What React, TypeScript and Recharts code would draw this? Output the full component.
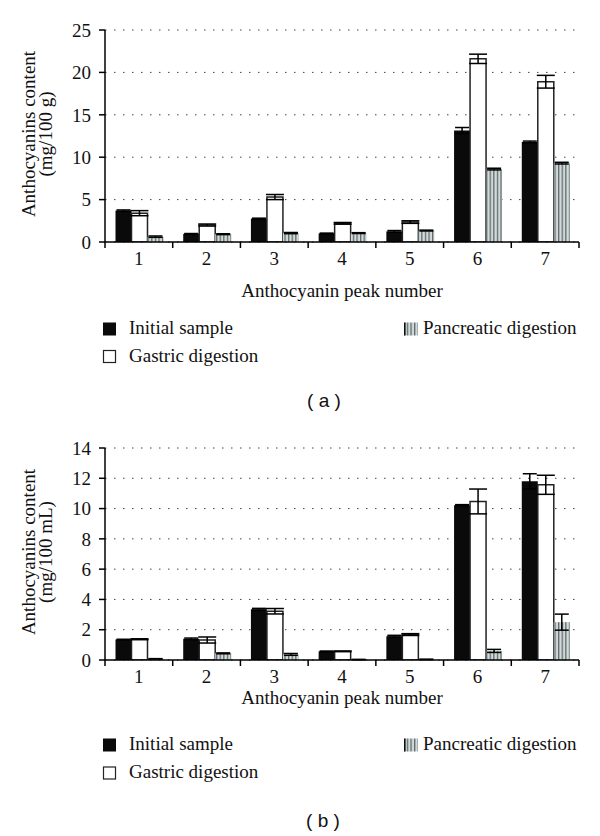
import React from 'react';
import { BarChart, Bar, XAxis, YAxis, CartesianGrid, ErrorBar } from 'recharts';

const categories = ['1', '2', '3', '4', '5', '6', '7'];
const seriesNames = ['Initial sample', 'Gastric digestion', 'Pancreatic digestion'];

// Panel (a): mg/100 g
const initialA = [3.7, 0.95, 2.75, 1.0, 1.25, 13.15, 11.8];
const initialErrA = [0.08, 0.05, 0.06, 0.05, 0.1, 0.35, 0.1];
const gastricA = [3.4, 2.0, 5.3, 2.2, 2.35, 21.6, 18.9];
const gastricErrA = [0.3, 0.12, 0.3, 0.1, 0.15, 0.55, 0.75];
const pancreaticA = [0.63, 0.92, 1.05, 1.05, 1.35, 8.6, 9.3];
const pancreaticErrA = [0.08, 0.05, 0.07, 0.05, 0.05, 0.1, 0.1];
const yTicksA = [0, 5, 10, 15, 20, 25];

// Panel (b): mg/100 mL
const initialB = [1.35, 1.4, 3.35, 0.57, 1.57, 10.22, 11.8];
const initialErrB = [0.02, 0.05, 0.06, 0.02, 0.06, 0.04, 0.5];
const gastricB = [1.37, 1.32, 3.22, 0.57, 1.68, 10.47, 11.57];
const gastricErrB = [0.03, 0.2, 0.18, 0.02, 0.06, 0.82, 0.63];
const pancreaticB = [0.08, 0.44, 0.37, 0.03, 0.04, 0.6, 2.5];
const pancreaticErrB = [0.01, 0.03, 0.06, 0.01, 0.01, 0.1, 0.53];
const yTicksB = [0, 2, 4, 6, 8, 10, 12, 14];

const SERIF = '"Liberation Serif", "Times New Roman", serif';
const SANS = '"Liberation Sans", Arial, sans-serif';
const CHART_W = 600;
const CHART_H = 270;
const Y_W = 105;
const RIGHT = 21;
const PLOT_W = CHART_W - Y_W - RIGHT;
const BAND = PLOT_W / categories.length;

function buildRows(a: number[], ae: number[], g: number[], ge: number[], p: number[], pe: number[]) {
  return categories.map((c, i) => ({
    peak: c,
    initial: a[i], initialErr: ae[i],
    gastric: g[i], gastricErr: ge[i],
    pancreatic: p[i], pancreaticErr: pe[i],
  }));
}

const dataA = buildRows(initialA, initialErrA, gastricA, gastricErrA, pancreaticA, pancreaticErrA);
const dataB = buildRows(initialB, initialErrB, gastricB, gastricErrB, pancreaticB, pancreaticErrB);

function XTick(props: any) {
  const { x, y, payload, index } = props;
  const left = x - BAND / 2;
  const isLast = index === categories.length - 1;
  return (
    <g>
      <line x1={left} x2={left} y1={y} y2={y + 6} stroke="#000" strokeWidth={1.5} />
      {isLast && <line x1={x + BAND / 2} x2={x + BAND / 2} y1={y} y2={y + 6} stroke="#000" strokeWidth={1.5} />}
      <text x={x} y={y + 23} textAnchor="middle" fontSize={19} fontFamily={SERIF} fill="#111">
        {payload.value}
      </text>
    </g>
  );
}

function Panel({ data, ticks, max, pid }: { data: any[]; ticks: number[]; max: number; pid: string }) {
  return (
    <BarChart
      width={CHART_W}
      height={CHART_H}
      data={data}
      margin={{ top: 30, right: RIGHT, left: 0, bottom: 0 }}
      barCategoryGap="15.5%"
      barGap={0}
    >
      <defs>
        <pattern id={pid} width="3.6" height="4" patternUnits="userSpaceOnUse">
          <rect x="0" y="0" width="3.6" height="4" fill="#d3dada" />
          <rect x="0" y="0" width="1.3" height="4" fill="#5f6a6a" />
        </pattern>
      </defs>
      <CartesianGrid vertical={false} stroke="#444" strokeDasharray="1.5 7.5" />
      <XAxis
        dataKey="peak"
        height={28}
        axisLine={{ stroke: '#000', strokeWidth: 1.5 }}
        tickLine={false}
        tickSize={0}
        tickMargin={0}
        tick={<XTick />}
        interval={0}
      />
      <YAxis
        width={Y_W}
        domain={[0, max]}
        ticks={ticks}
        allowDataOverflow
        axisLine={{ stroke: '#000', strokeWidth: 1.5 }}
        tickLine={{ stroke: '#000', strokeWidth: 1.5 }}
        tickSize={6}
        tickMargin={8}
        tick={{ fill: '#111', fontSize: 19, fontFamily: SERIF }}
      />
      <Bar dataKey="initial" fill="#0a0a0a" isAnimationActive={false}>
        <ErrorBar dataKey="initialErr" width={7} stroke="#000" strokeWidth={1.5} direction="y" />
      </Bar>
      <Bar dataKey="gastric" fill="#ffffff" stroke="#222" strokeWidth={1.5} isAnimationActive={false}>
        <ErrorBar dataKey="gastricErr" width={9} stroke="#000" strokeWidth={1.5} direction="y" />
      </Bar>
      <Bar dataKey="pancreatic" fill={`url(#${pid})`} isAnimationActive={false}>
        <ErrorBar dataKey="pancreaticErr" width={7} stroke="#000" strokeWidth={1.5} direction="y" />
      </Bar>
    </BarChart>
  );
}

function Legend({ top1, top2, pid }: { top1: number; top2: number; pid: string }) {
  return (
    <g fontFamily={SERIF} fontSize={19} fill="#111">
      <rect x={103} y={top1 - 6.5} width={13} height={13} fill="#0a0a0a" />
      <text x={129} y={top1 + 5}>{seriesNames[0]}</text>
      <rect x={103.5} y={top2 - 6} width={12} height={12} fill="#fff" stroke="#222" strokeWidth={1.2} />
      <text x={129} y={top2 + 5}>{seriesNames[1]}</text>
      <rect x={404} y={top1 - 6.5} width={14} height={13} fill={`url(#${pid})`} />
      <rect x={404} y={top1 - 6.5} width={1.6} height={13} fill="#111" />
      <text x={423} y={top1 + 5}>{seriesNames[2]}</text>
    </g>
  );
}

function YLabel({ cy, unit }: { cy: number; unit: string }) {
  return (
    <g fontFamily={SERIF} fontSize={19} fill="#111" textAnchor="middle">
      <text x={35} y={cy} transform={`rotate(-90, 35, ${cy})`}>Anthocyanins content</text>
      <text x={52} y={cy} transform={`rotate(-90, 52, ${cy})`}>{unit}</text>
    </g>
  );
}

export default function App() {
  return (
    <div style={{ position: 'absolute', left: 0, top: 0, width: 600, height: 836, background: '#fff' }}>
      <div style={{ position: 'absolute', left: 0, top: 0 }}>
        <Panel data={dataA} ticks={yTicksA} max={25} pid="stripeA" />
      </div>
      <div style={{ position: 'absolute', left: 0, top: 417.5 }}>
        <Panel data={dataB} ticks={yTicksB} max={14} pid="stripeB" />
      </div>
      <svg width={600} height={836} style={{ position: 'absolute', left: 0, top: 0, pointerEvents: 'none' }}>
        <defs>
          <pattern id="stripeL" width="3.6" height="4" patternUnits="userSpaceOnUse">
            <rect x="0" y="0" width="3.6" height="4" fill="#d3dada" />
            <rect x="0" y="0" width="1.3" height="4" fill="#5f6a6a" />
          </pattern>
        </defs>
        <YLabel cy={134} unit="(mg/100 g)" />
        <YLabel cy={552} unit="(mg/100 mL)" />
        <text x={342} y={297} textAnchor="middle" fontFamily={SERIF} fontSize={19} fill="#111">
          Anthocyanin peak number
        </text>
        <text x={342} y={704} textAnchor="middle" fontFamily={SERIF} fontSize={19} fill="#111">
          Anthocyanin peak number
        </text>
        <Legend top1={329} top2={356.5} pid="stripeL" />
        <Legend top1={745} top2={773} pid="stripeL" />
        <text x={324} y={407} textAnchor="middle" fontFamily={SANS} fontSize={19} fill="#111" style={{ whiteSpace: 'pre' }}>
          {'( a )'}
        </text>
        <text x={323} y={827} textAnchor="middle" fontFamily={SANS} fontSize={19} fill="#111" style={{ whiteSpace: 'pre' }}>
          {'( b )'}
        </text>
      </svg>
    </div>
  );
}
